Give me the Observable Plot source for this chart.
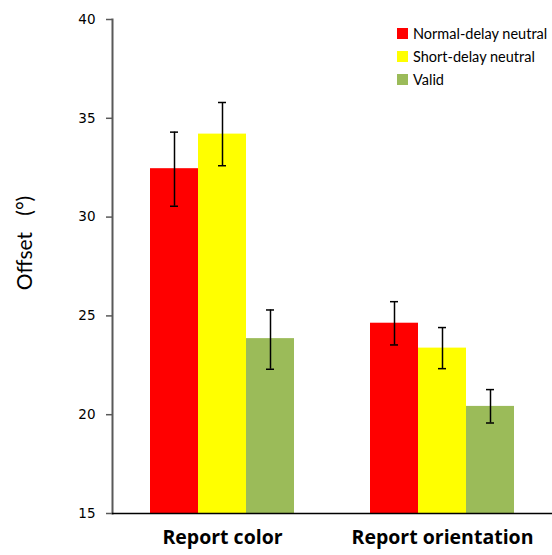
<!DOCTYPE html>
<html>
<head>
<meta charset="utf-8">
<script src="https://cdn.jsdelivr.net/npm/d3@7"></script>
<script src="https://cdn.jsdelivr.net/npm/@observablehq/plot@0.6"></script>
<style>
  html, body { margin: 0; padding: 0; background: #fff; }
  #wrap { position: relative; width: 552px; height: 555px; overflow: hidden; }
  #legend { position: absolute; left: 397px; top: 22px; font-family: Lato, "Open Sans", sans-serif; font-size: 14.5px; color: #000; white-space: nowrap; }
  #legend .row { display: flex; align-items: center; height: 23px; }
  #legend .sw { width: 11px; height: 11px; margin-right: 5px; flex: none; }
  #ylab { position: absolute; left: 23px; top: 243px; transform: translate(-50%, -50%) rotate(-90deg); font-family: Lato, "Open Sans", sans-serif; font-size: 21px; white-space: pre; color: #000; }
</style>
</head>
<body>
<div id="wrap">
  <div id="chart"></div>
  <div id="legend"></div>
  <div id="ylab">Offset   (°)</div>
</div>
<script>
const groups = ["Report color", "Report orientation"];
const conditions = ["Normal-delay neutral", "Short-delay neutral", "Valid"];
const colors = ["#FF0000", "#FFFF00", "#9BBB59"];
const yTicks = [15, 20, 25, 30, 35, 40];

const colorMeans = [32.45, 34.2, 23.85];
const colorLow   = [30.55, 32.6, 22.3];
const colorHigh  = [34.3, 35.8, 25.3];

const orientMeans = [24.63, 23.37, 20.42];
const orientLow   = [23.53, 22.33, 19.58];
const orientHigh  = [25.72, 24.41, 21.27];

const data = [];
conditions.forEach((c, i) => data.push({group: groups[0], cond: c, mean: colorMeans[i], low: colorLow[i], high: colorHigh[i]}));
conditions.forEach((c, i) => data.push({group: groups[1], cond: c, mean: orientMeans[i], low: orientLow[i], high: orientHigh[i]}));

const chart = Plot.plot({
  width: 552,
  height: 555,
  marginLeft: 112,
  marginRight: 0,
  marginTop: 19,
  marginBottom: 42,
  style: {fontFamily: "DejaVu Sans, sans-serif", background: "#fff"},
  fx: {domain: groups, padding: 0, label: null},
  x: {domain: conditions, paddingInner: 0, paddingOuter: 0.76, axis: null},
  y: {domain: [15, 40]},
  color: {domain: conditions, range: colors},
  marks: [
    Plot.barY(data, {fx: "group", x: "cond", y1: 15, y2: "mean", fill: "cond"}),
    Plot.ruleX(data, {fx: "group", x: "cond", y1: "low", y2: "high", stroke: "#000", strokeWidth: 1.5}),
    Plot.tickY(data, {fx: "group", x: "cond", y: "low", stroke: "#000", strokeWidth: 1.5, insetLeft: 20, insetRight: 20}),
    Plot.tickY(data, {fx: "group", x: "cond", y: "high", stroke: "#000", strokeWidth: 1.5, insetLeft: 20, insetRight: 20}),
    Plot.frame({anchor: "left", facetAnchor: "left", stroke: "#595959", strokeWidth: 2}),
    Plot.ruleY([15], {stroke: "#000", strokeWidth: 1.5}),
    Plot.axisY({ticks: yTicks, tickSize: 6, tickPadding: 11, fontSize: 13.5, label: null, stroke: "#595959", strokeWidth: 1.5, fill: "#000"}),
    Plot.axisFx({anchor: "bottom", tickSize: 0, tickPadding: 17, fontSize: 19.5, fontWeight: "bold", fontFamily: "'Open Sans', Lato, sans-serif", label: null, fill: "#000"})
  ]
});
document.getElementById("chart").appendChild(chart);

const legend = document.getElementById("legend");
conditions.forEach((c, i) => {
  const row = document.createElement("div");
  row.className = "row";
  const sw = document.createElement("span");
  sw.className = "sw";
  sw.style.background = colors[i];
  const t = document.createElement("span");
  t.textContent = c;
  row.appendChild(sw);
  row.appendChild(t);
  legend.appendChild(row);
});
</script>
</body>
</html>
